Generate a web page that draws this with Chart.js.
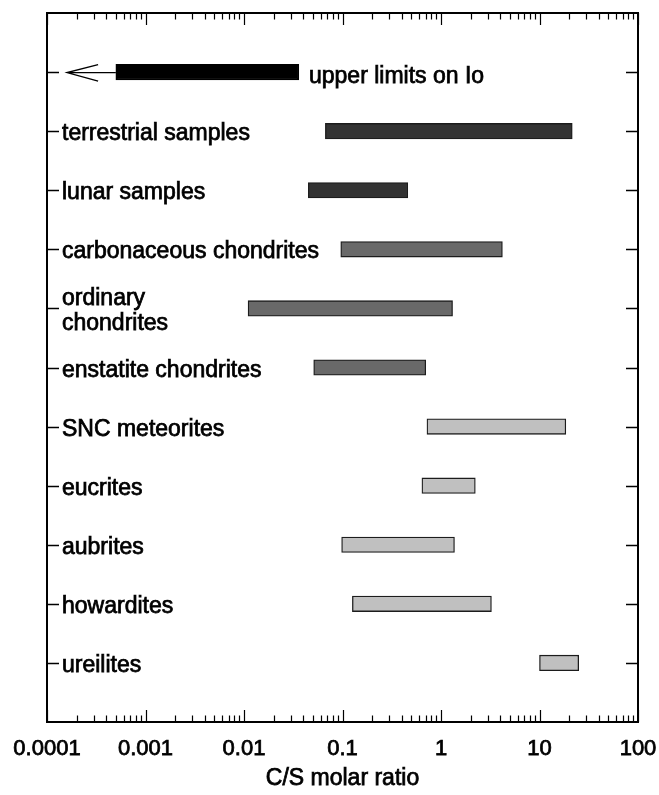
<!DOCTYPE html>
<html>
<head>
<meta charset="utf-8">
<script src="https://cdn.jsdelivr.net/npm/chart.js@4/dist/chart.umd.min.js"></script>
<style>
  html, body { margin: 0; padding: 0; background: #ffffff; }
  #wrap { width: 659px; height: 795px; }
</style>
</head>
<body>
<div id="wrap"><canvas id="c" width="659" height="795"></canvas></div>
<script>
// C/S molar ratio ranges by sample group (log scale)
const categories = [
  'upper limits on Io',
  'terrestrial samples',
  'lunar samples',
  'carbonaceous chondrites',
  ['ordinary', 'chondrites'],
  'enstatite chondrites',
  'SNC meteorites',
  'eucrites',
  'aubrites',
  'howardites',
  'ureilites'
];
const lowValues  = [0.0005, 0.067, 0.045, 0.096, 0.011, 0.051, 0.72, 0.64, 0.098, 0.126, 10];
const highValues = [0.036, 21.5, 0.46, 4.2, 1.31, 0.70, 18.5, 2.23, 1.37, 3.25, 25];
const barColors = ['#000000', '#333333', '#333333', '#696969', '#696969', '#696969',
                   '#c0c0c0', '#c0c0c0', '#c0c0c0', '#c0c0c0', '#c0c0c0'];
// Io values are upper limits: an arrow runs from the bar down to this value
const ioArrowTip = 0.00016;
const xTickValues = [0.0001, 0.001, 0.01, 0.1, 1, 10, 100];
const xTickLabels = ['0.0001', '0.001', '0.01', '0.1', '1', '10', '100'];
const xTitle = 'C/S molar ratio';

const FONT = '"Liberation Sans", Arial, Helvetica, sans-serif';

function heavyText(ctx, text, x, y) {
  ctx.fillText(text, x, y);
  ctx.strokeText(text, x, y);
}

const framePlugin = {
  id: 'frame',
  afterDatasetsDraw(chart) {
    const ctx = chart.ctx;
    const xs = chart.scales.x, ys = chart.scales.y;
    const { left, right, top, bottom } = chart.chartArea;
    ctx.save();

    // upper-limit arrow for Io
    const yIo = ys.getPixelForValue(1);
    const xTip = xs.getPixelForValue(ioArrowTip);
    const xBar = xs.getPixelForValue(lowValues[0]);
    ctx.strokeStyle = '#000';
    ctx.lineWidth = 1.4;
    ctx.beginPath();
    ctx.moveTo(xBar, yIo + 0.5);
    ctx.lineTo(xTip, yIo + 0.5);
    ctx.moveTo(xTip + 31, yIo - 7.5);
    ctx.lineTo(xTip, yIo + 0.5);
    ctx.lineTo(xTip + 31, yIo + 9);
    ctx.stroke();

    // plot frame
    ctx.lineWidth = 2;
    ctx.strokeRect(left, top, right - left, bottom - top);

    // category ticks on both sides, pointing inward
    ctx.lineWidth = 1.5;
    ctx.beginPath();
    for (let i = 0; i < categories.length; i++) {
      const y = Math.round(ys.getPixelForValue(i + 1)) + 0.5;
      ctx.moveTo(left, y); ctx.lineTo(left + 12, y);
      ctx.moveTo(right, y); ctx.lineTo(right - 12, y);
    }
    ctx.stroke();

    // log ticks on top and bottom, pointing inward
    ctx.lineWidth = 1.2;
    ctx.beginPath();
    for (let d = -4; d < 2; d++) {
      for (let m = 1; m <= 10; m++) {
        const v = m * Math.pow(10, d);
        const x = Math.round(xs.getPixelForValue(v)) + 0.5;
        const len = (m === 1 || m === 10) ? 12 : 6.5;
        ctx.moveTo(x, bottom); ctx.lineTo(x, bottom - len);
        ctx.moveTo(x, top); ctx.lineTo(x, top + len);
      }
    }
    ctx.stroke();

    // x tick labels and axis title
    ctx.fillStyle = '#000';
    ctx.strokeStyle = '#000';
    ctx.lineWidth = 0.75;
    ctx.textAlign = 'center';
    ctx.textBaseline = 'alphabetic';
    ctx.font = '22px ' + FONT;
    xTickValues.forEach((v, i) => {
      heavyText(ctx, xTickLabels[i], xs.getPixelForValue(v), bottom + 32.5);
    });
    ctx.font = '23px ' + FONT;
    heavyText(ctx, xTitle, (left + right) / 2, bottom + 62.5);

    // category labels
    ctx.textAlign = 'left';
    ctx.font = '23px ' + FONT;
    categories.forEach((label, i) => {
      const y = ys.getPixelForValue(i + 1);
      if (i === 0) {
        heavyText(ctx, label, 309, y + 11);
      } else if (Array.isArray(label)) {
        heavyText(ctx, label[0], 62, y - 3);
        heavyText(ctx, label[1], 62, y + 22);
      } else {
        heavyText(ctx, label, 62, y + 9);
      }
    });
    ctx.restore();
  }
};

new Chart(document.getElementById('c'), {
  type: 'bar',
  data: {
    datasets: [{
      data: categories.map((c, i) => ({ x: [lowValues[i], highValues[i]], y: i + 1 })),
      backgroundColor: barColors,
      borderColor: barColors.map((c, i) => i === 0 ? '#000000' : '#1c1c1c'),
      borderWidth: 1.3,
      borderSkipped: false,
      barThickness: 15.5
    }]
  },
  options: {
    indexAxis: 'y',
    responsive: false,
    animation: false,
    devicePixelRatio: 1,
    layout: { padding: { left: 47, right: 21, top: 13, bottom: 73 } },
    scales: {
      x: { type: 'logarithmic', min: 0.0001, max: 100, display: false },
      y: { type: 'linear', min: 0, max: 12, reverse: true, offset: false, grace: 0, display: false }
    },
    plugins: {
      legend: { display: false },
      tooltip: { enabled: false }
    }
  },
  plugins: [framePlugin]
});
</script>
</body>
</html>
